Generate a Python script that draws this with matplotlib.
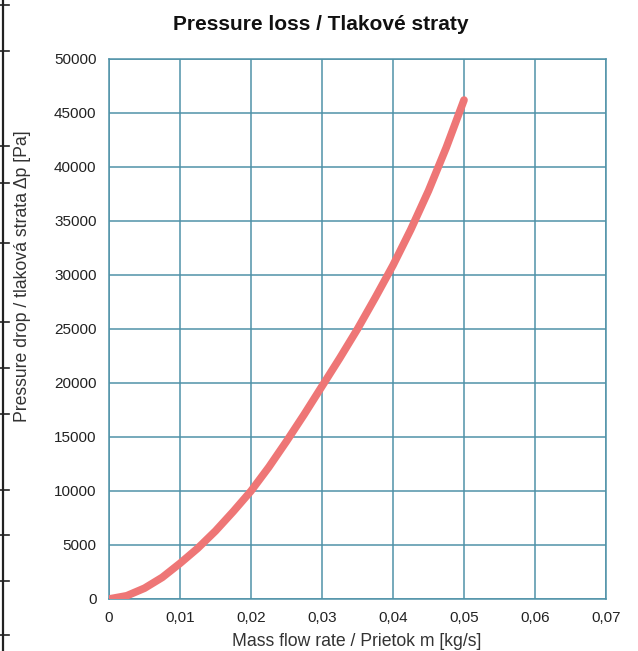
import matplotlib
matplotlib.use("Agg")
from matplotlib import pyplot as plt
from matplotlib.lines import Line2D
from matplotlib.ticker import FuncFormatter

# values
flow = [0.0, 0.0025, 0.005, 0.0075, 0.01, 0.0125, 0.015, 0.0175, 0.02, 0.0225,
        0.025, 0.0275, 0.03, 0.0325, 0.035, 0.0375, 0.04, 0.0425, 0.045, 0.0475, 0.05]
dp = [0, 300, 1000, 2000, 3300, 4700, 6300, 8100, 10000, 12200,
      14600, 17100, 19700, 22300, 25000, 27900, 30900, 34200, 37800, 41800, 46200]

x_ticks = [0, 0.01, 0.02, 0.03, 0.04, 0.05, 0.06, 0.07]
y_ticks = [0, 5000, 10000, 15000, 20000, 25000, 30000, 35000, 40000, 45000, 50000]

title = 'Pressure loss / Tlakové straty'
xlabel = 'Mass flow rate / Prietok m [kg/s]'
ylabel = 'Pressure drop / tlaková strata Δp [Pa]'

# tick marks of the cropped table border on the left edge (pixels from top)
border_marks = [5, 51, 146, 183, 243, 322, 368, 414, 490, 535, 581, 635]

W, H = 638, 651
plt.rcParams['font.family'] = ['Liberation Sans', 'DejaVu Sans']

fig = plt.figure(figsize=(W / 100, H / 100), dpi=100)
ax = fig.add_axes([109 / W, 1 - 599 / H, (606 - 109) / W, (599 - 59) / H])

grid_c = '#4f92a8'
ax.plot(flow, dp, color='#ee7676', lw=5.5, solid_capstyle='round',
        solid_joinstyle='round', zorder=3)

ax.set_xlim(0, 0.07)
ax.set_ylim(0, 50000)
ax.set_xticks(x_ticks)
ax.set_yticks(y_ticks)
ax.xaxis.set_major_formatter(FuncFormatter(lambda v, p: '0' if v == 0 else ('%.2f' % v).replace('.', ',')))
ax.yaxis.set_major_formatter(FuncFormatter(lambda v, p: '%d' % v))
ax.grid(True, color=grid_c, lw=1.1)
ax.set_axisbelow(True)
for s in ax.spines.values():
    s.set_color(grid_c)
    s.set_linewidth(1.1)
ax.tick_params(length=0, labelsize=11, colors='#222222')
ax.tick_params(axis='y', pad=9)
ax.tick_params(axis='x', pad=9)

# axis titles placed as in the reference
fig.text(357 / W, 1 - 642 / H, xlabel, ha='center', va='center',
         fontsize=12.7, color='#333333')
fig.text(23 / W, 1 - 276 / H, ylabel, ha='center', va='center', rotation=90,
         fontsize=12.7, color='#333333')
fig.text(321 / W, 1 - 25 / H, title, ha='center', va='center',
         fontsize=15, fontweight='bold', color='#111111')

# left border line
fig.add_artist(Line2D([3 / W, 3 / W], [0, 1], transform=fig.transFigure, color='#222222', lw=1.6))
for yp in border_marks:
    fig.add_artist(Line2D([0, 9 / W], [1 - yp / H, 1 - yp / H], transform=fig.transFigure,
                          color='#222222', lw=1.2))

fig.savefig('out.png', dpi=100)
